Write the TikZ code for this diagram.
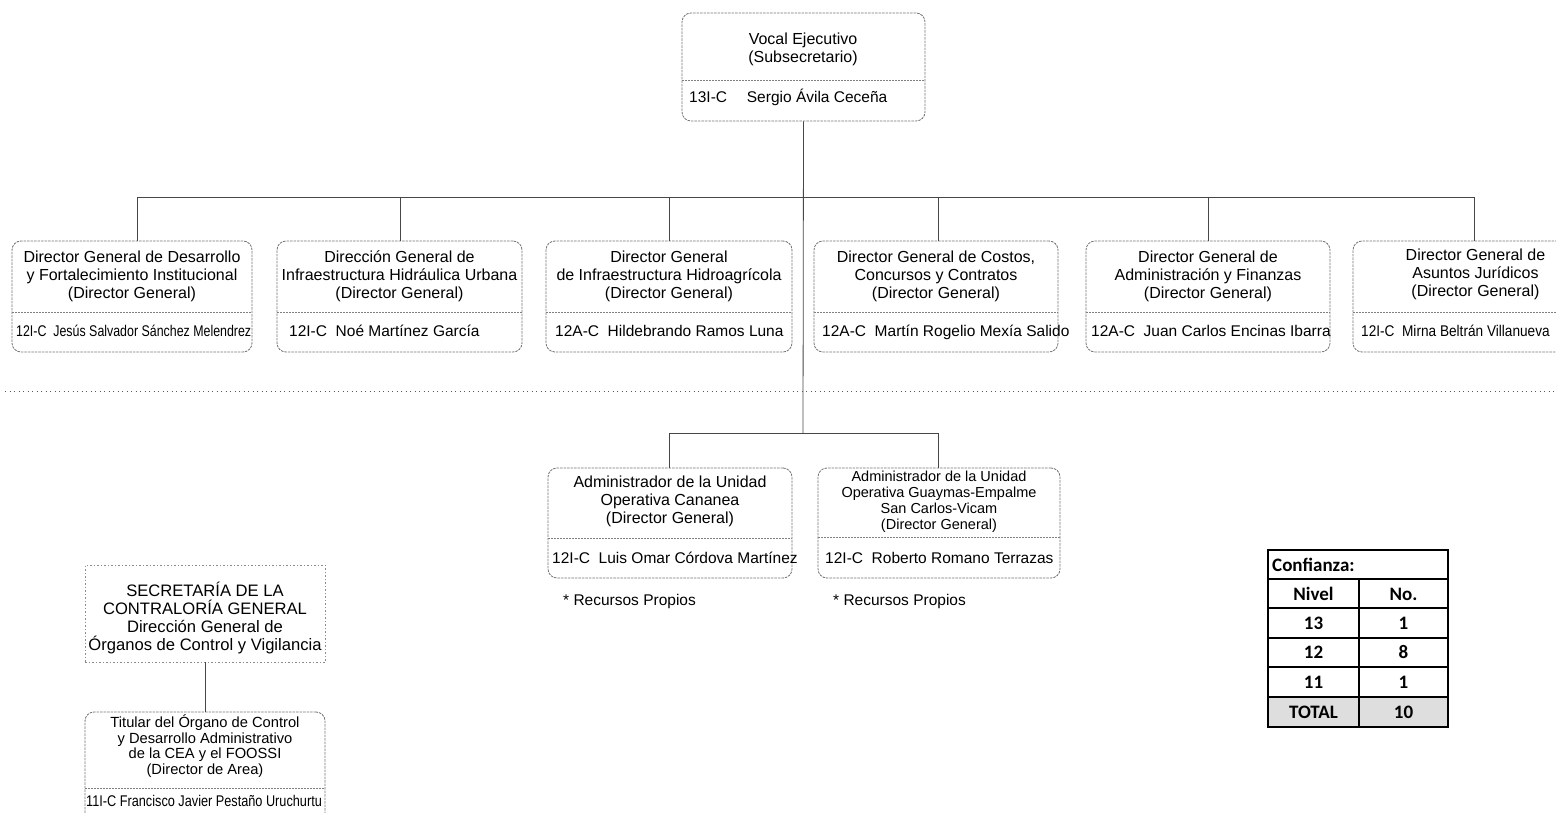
\documentclass[tikz,border=0pt]{standalone}
\usepackage{fontspec}
\setmainfont{Liberation Sans}
\newfontfamily\calib{Carlito}
\newcommand\fA{\fontsize{16}{18}\selectfont}
\newcommand\fN{\fontsize{15.5}{18}\selectfont}
\newcommand\fB{\fontsize{14.5}{16}\selectfont}
\newcommand\fC{\fontsize{14.7}{15.5}\selectfont}
\newcommand\fS{\fontsize{16.6}{18.2}\selectfont}
\newcommand\fT{\calib\bfseries\fontsize{19}{22}\selectfont}
\begin{document}
\begin{tikzpicture}[x=1pt,y=-1pt,
  box/.style={draw=black!55, line width=0.8pt, dash pattern=on 2.5pt off 1pt, rounded corners=9pt, inner sep=0pt},
  sqbox/.style={draw=black!45, line width=0.7pt, dash pattern=on 1.5pt off 2pt, inner sep=0pt},
  div/.style={draw=black!50, line width=0.7pt, dash pattern=on 1.5pt off 1.5pt},
  conn/.style={draw=black!72, line width=0.8pt},
  sep/.style={draw=black!65, line width=1pt, dash pattern=on 1.2pt off 3.3pt},
  ttl/.style={font=\fA, align=center, inner sep=0pt},
  ttlsmall/.style={font=\fB, align=center, inner sep=0pt},
  ttlc/.style={font=\fC, align=center, inner sep=0pt},
  ttls/.style={font=\fS, align=center, inner sep=0pt},
  nm/.style={font=\fN, anchor=base west, inner sep=0pt},
  tline/.style={draw=black, line width=1.4pt},
  tc/.style={font=\fT, inner sep=0pt}
]
\useasboundingbox (0,0) rectangle (1556,813);
\clip (0,0) rectangle (1556,813);

% ---------------- top box
\node[box, minimum width=243, minimum height=108] (top) at (803.5,67) {};
\draw[div] (682,80) -- (925,80);
\node[ttl] (topt) at (803,49) {Vocal Ejecutivo\\(Subsecretario)};
\node[nm] (topn) at (689,103) {13I-C\quad\ Sergio Ávila Ceceña};

% ---------------- row of directors
\node[box, minimum width=240, minimum height=111] (b1) at (132,296.5) {};
\node[box, minimum width=245, minimum height=111] (b2) at (399.5,296.5) {};
\node[box, minimum width=246, minimum height=111] (b3) at (669,296.5) {};
\node[box, minimum width=244, minimum height=111] (b4) at (936,296.5) {};
\node[box, minimum width=244, minimum height=111] (b5) at (1208,296.5) {};
\node[box, minimum width=245, minimum height=111] (b6) at (1475.5,296.5) {};
\foreach \l/\r in {12/252,277/522,546/792,814/1058,1086/1330,1353/1598}
  \draw[div] (\l,312) -- (\r,312);

\node[ttl] (b1t) at (132,276) {Director General de Desarrollo\\y Fortalecimiento Institucional\\(Director General)};
\node[ttl] (b2t) at (399.5,276) {Dirección General de\\Infraestructura Hidráulica Urbana\\(Director General)};
\node[ttl] (b3t) at (669,276) {Director General\\de Infraestructura Hidroagrícola\\(Director General)};
\node[ttl] (b4t) at (936,276) {Director General de Costos,\\Concursos y Contratos\\(Director General)};
\node[ttl] (b5t) at (1208,276) {Director General de\\Administración y Finanzas\\(Director General)};
\node[ttl] (b6t) at (1475.5,274) {Director General de\\Asuntos Jurídicos\\(Director General)};

\node[nm] (b1n) at (16,336) {\scalebox{0.8}[1]{12I-C\ \ Jesús Salvador Sánchez Melendrez}};
\node[nm] (b2n) at (289,336) {12I-C\ \ Noé Martínez García};
\node[nm] (b3n) at (555,336) {12A-C\ \ Hildebrando Ramos Luna};
\node[nm] (b4n) at (822,336) {12A-C\ \ Martín Rogelio Mexía Salido};
\node[nm] (b5n) at (1091,336) {12A-C\ \ Juan Carlos Encinas Ibarra};
\node[nm] (b6n) at (1361,336) {\scalebox{0.88}[1]{12I-C\ \ Mirna Beltrán Villanueva}};

% ---------------- connectors upper
\coordinate (busL) at (137,197);
\coordinate (busR) at (1474,197);
\coordinate (lowbus) at (803,433);
\draw[conn] (top.south) -- (lowbus);
\draw[conn] (busL) -- (busR);
\foreach \x/\b in {137/b1,400/b2,669/b3,938/b4,1208/b5,1474/b6}
  \draw[conn] (\x,197) -- (\x,241);

% ---------------- separator
\draw[sep] (5,391) -- (1556,391);

% ---------------- lower branch
\node[box, minimum width=244, minimum height=110] (u1) at (670,523) {};
\node[box, minimum width=242, minimum height=110] (u2) at (939,523) {};
\draw[div] (548,538) -- (792,538);
\draw[div] (818,537) -- (1060,537);
\node[ttl] (u1t) at (670,501) {Administrador de la Unidad\\Operativa Cananea\\(Director General)};
\node[ttlsmall] (u2t) at (939,502) {Administrador de la Unidad\\Operativa Guaymas-Empalme\\San Carlos-Vicam\\(Director General)};
\node[nm] (u1n) at (552,563) {12I-C\ \ Luis Omar Córdova Martínez};
\node[nm] (u2n) at (825,563) {12I-C\ \ Roberto Romano Terrazas};
\draw[conn] (669,433) -- (938,433);
\draw[conn] (669,433) -- (669,468);
\draw[conn] (938,433) -- (938,468);
\node[nm] (r1) at (563,605) {* Recursos Propios};
\node[nm] (r2) at (833,605) {* Recursos Propios};

% ---------------- Contraloria
\node[sqbox, minimum width=240, minimum height=97] (sec) at (205,613.5) {};
\node[ttls] (sect) at (205,618) {SECRETARÍA DE LA\\CONTRALORÍA GENERAL\\Dirección General de\\Órganos de Control y Vigilancia};
\node[box, minimum width=240, minimum height=112] (tit) at (205,768) {};
\draw[conn] (sec.south) -- (tit.north);
\draw[div] (85,788) -- (325,788);
\node[ttlc] (titt) at (205,746) {Titular del Órgano de Control\\y Desarrollo Administrativo\\de la CEA y el FOOSSI\\(Director de Area)};
\node[nm] (titn) at (86,806) {\scalebox{0.82}[1]{11I-C Francisco Javier Pestaño Uruchurtu}};

% ---------------- table
\fill[black!13] (1268,697) rectangle (1448,727);
\draw[tline] (1268,550) rectangle (1448,727);
\foreach \y in {579,608,638,667,697}
  \draw[tline] (1268,\y) -- (1448,\y);
\draw[tline] (1359,579) -- (1359,727);
\node[tc, anchor=west] (tcf) at (1272,565) {Confianza:};
\node[tc] (th1) at (1313.5,594) {Nivel};
\node[tc] (th2) at (1403.5,594) {No.};
\node[tc] (t13) at (1313.5,623) {13};
\node[tc] (t13n) at (1403.5,623) {1};
\node[tc] (t12) at (1313.5,652.5) {12};
\node[tc] (t12n) at (1403.5,652.5) {8};
\node[tc] (t11) at (1313.5,682) {11};
\node[tc] (t11n) at (1403.5,682) {1};
\node[tc] (tt) at (1313.5,712) {TOTAL};
\node[tc] (ttn) at (1403.5,712) {10};
\end{tikzpicture}
\end{document}
